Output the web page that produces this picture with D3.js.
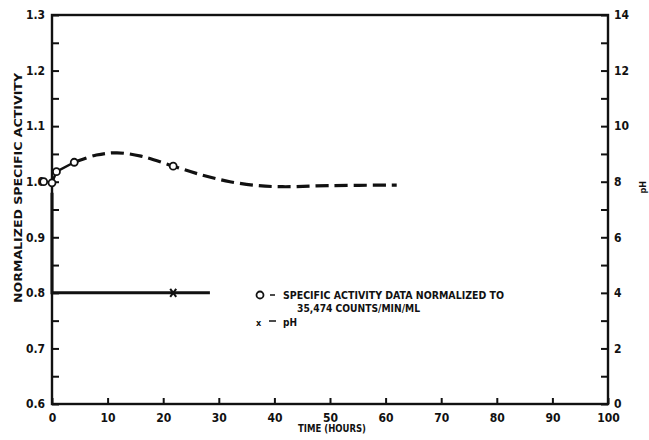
<!DOCTYPE html>
<html>
<head>
<meta charset="utf-8">
<script src="https://cdn.jsdelivr.net/npm/d3@7"></script>
<style>
  html, body { margin: 0; padding: 0; background: #fff; }
  svg { display: block; }
  text { font-family: "DejaVu Sans Condensed", "DejaVu Sans", sans-serif; font-weight: bold; fill: #111; }
</style>
</head>
<body>
<svg id="chart" width="649" height="440"></svg>
<script>
// Measured specific activity (normalized), circles
const activityTime  = [-1.5, 0, 0.8, 4, 21.8];
const activityValue = [1.0, 0.998, 1.018, 1.035, 1.028];

// Smoothed trend drawn dashed beyond the early points
const trendTime  = [4, 8, 11.7, 16, 21.8, 27, 32, 37, 41.5, 50, 62];
const trendValue = [1.035, 1.048, 1.052, 1.046, 1.028, 1.012, 1.0, 0.993, 0.991, 0.993, 0.994];

// pH record (right axis)
const pHTime  = [0, 0, 21.8, 28.4];
const pHValue = [7.6, 4.0, 4.0, 4.0];
const pHMarkIndex = [2];

// Tick labels
const leftTicks   = [0.6, 0.7, 0.8, 0.9, 1.0, 1.1, 1.2, 1.3];
const leftLabels  = ["0.6", "0.7", "0.8", "0.9", "1.0", "1.1", "1.2", "1.3"];
const rightTicks  = [0, 2, 4, 6, 8, 10, 12, 14];
const bottomTicks = [0, 10, 20, 30, 40, 50, 60, 70, 80, 90, 100];

const svg = d3.select("#chart");
const L = 52, R = 608, T = 15, B = 404;
const ink = "#111";

const x = d3.scaleLinear().domain([0, 100]).range([L, R]);
const y = d3.scaleLinear().domain([0.6, 1.3]).range([B, T]);
const y2 = d3.scaleLinear().domain([0, 14]).range([B, T]);

// Frame
svg.append("rect").attr("x", L).attr("y", T).attr("width", R - L).attr("height", B - T)
  .attr("fill", "none").attr("stroke", ink).attr("stroke-width", 2.4);

// Left axis: ticks inside, labels outside
const leftAxis = d3.axisLeft(y).tickValues(leftTicks).tickFormat((d, i) => leftLabels[i])
  .tickSizeInner(-7).tickSizeOuter(0).tickPadding(7);
const gL = svg.append("g").attr("transform", `translate(${L},0)`).call(leftAxis);
const leftMinor = d3.axisLeft(y).tickValues(d3.range(0.65, 1.3, 0.1)).tickFormat("")
  .tickSizeInner(-7).tickSizeOuter(0);
const gLm = svg.append("g").attr("transform", `translate(${L},0)`).call(leftMinor);

// Right axis
const rightAxis = d3.axisRight(y2).tickValues(rightTicks).tickFormat(d3.format("d"))
  .tickSizeInner(-7).tickSizeOuter(0).tickPadding(6);
const gR = svg.append("g").attr("transform", `translate(${R},0)`).call(rightAxis);
const rightMinor = d3.axisRight(y2).tickValues(d3.range(1, 14, 2)).tickFormat("")
  .tickSizeInner(-7).tickSizeOuter(0);
const gRm = svg.append("g").attr("transform", `translate(${R},0)`).call(rightMinor);

// Bottom axis
const bottomAxis = d3.axisBottom(x).tickValues(bottomTicks).tickFormat(d3.format("d"))
  .tickSizeInner(-6).tickSizeOuter(0).tickPadding(9);
const gB = svg.append("g").attr("transform", `translate(0,${B})`).call(bottomAxis);

[gL, gLm, gR, gRm, gB].forEach(g => {
  g.select(".domain").remove();
  g.selectAll(".tick line").attr("stroke", ink).attr("stroke-width", 2);
  g.selectAll(".tick text").attr("fill", ink).style("font-size", "12px")
    .style("font-family", "'DejaVu Sans Condensed', 'DejaVu Sans', sans-serif").style("font-weight", "bold");
});

// Axis titles
svg.append("text").attr("transform", "translate(22,188) rotate(-90)")
  .attr("text-anchor", "middle").style("font-size", "10px")
  .attr("textLength", 230).attr("lengthAdjust", "spacingAndGlyphs")
  .text("NORMALIZED SPECIFIC ACTIVITY");
svg.append("text").attr("x", (L + R) / 2 + 2).attr("y", 432).attr("text-anchor", "middle")
  .style("font-size", "10px").attr("textLength", 68).attr("lengthAdjust", "spacingAndGlyphs")
  .text("TIME (HOURS)");
svg.append("text").attr("transform", `translate(646,${y2(7.8)}) rotate(-90)`)
  .attr("text-anchor", "middle").style("font-size", "9px").text("pH");

// pH line
const pHLine = d3.line().x(i => x(pHTime[i])).y(i => y2(pHValue[i]));
svg.append("path").attr("d", pHLine(d3.range(pHTime.length)))
  .attr("fill", "none").attr("stroke", ink).attr("stroke-width", 3);
pHMarkIndex.forEach(i => {
  const cx = x(pHTime[i]), cy = y2(pHValue[i]);
  svg.append("path").attr("d", `M${cx - 3},${cy - 4}L${cx + 3},${cy + 4}M${cx + 3},${cy - 4}L${cx - 3},${cy + 4}`)
    .attr("stroke", ink).attr("stroke-width", 2);
});

// Solid segment through the early measurements
const early = d3.range(1, 4);
svg.append("path")
  .attr("d", d3.line().x(i => x(activityTime[i])).y(i => y(activityValue[i]))(early))
  .attr("fill", "none").attr("stroke", ink).attr("stroke-width", 2.5);

// Dashed trend
svg.append("path")
  .attr("d", d3.line().curve(d3.curveCatmullRom).x(i => x(trendTime[i])).y(i => y(trendValue[i]))(d3.range(trendTime.length)))
  .attr("fill", "none").attr("stroke", ink).attr("stroke-width", 3.2).attr("stroke-dasharray", "13,6");

// Circles
svg.selectAll("circle.obs").data(d3.range(activityTime.length)).enter().append("circle")
  .attr("class", "obs")
  .attr("cx", i => x(activityTime[i])).attr("cy", i => y(activityValue[i])).attr("r", 3.5)
  .attr("fill", "#fff").attr("stroke", ink).attr("stroke-width", 1.8);

// Legend
const lg = svg.append("g");
lg.append("circle").attr("cx", 260).attr("cy", 295).attr("r", 3.5).attr("fill", "#fff")
  .attr("stroke", ink).attr("stroke-width", 1.8);
lg.append("line").attr("x1", 270).attr("x2", 275).attr("y1", 295).attr("y2", 295).attr("stroke", ink).attr("stroke-width", 1.5);
lg.append("text").attr("x", 283).attr("y", 299).style("font-size", "11px")
  .attr("textLength", 221).attr("lengthAdjust", "spacingAndGlyphs")
  .text("SPECIFIC ACTIVITY DATA NORMALIZED TO");
lg.append("text").attr("x", 297).attr("y", 312).style("font-size", "11px")
  .attr("textLength", 123).attr("lengthAdjust", "spacingAndGlyphs")
  .text("35,474 COUNTS/MIN/ML");
lg.append("text").attr("x", 256).attr("y", 326).style("font-size", "9px").text("x");
lg.append("line").attr("x1", 269).attr("x2", 276).attr("y1", 321).attr("y2", 321).attr("stroke", ink).attr("stroke-width", 1.5);
lg.append("text").attr("x", 283).attr("y", 326).style("font-size", "10px").text("pH");
</script>
</body>
</html>
